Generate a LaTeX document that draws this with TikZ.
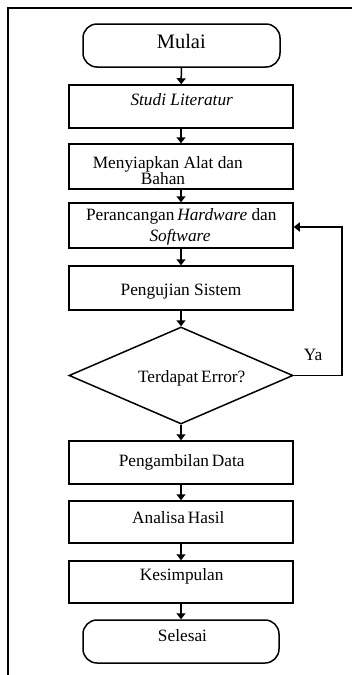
\documentclass[tikz,border=0pt]{standalone}
\usepackage{fontspec}
\setmainfont{Liberation Serif}
\usetikzlibrary{shapes.geometric,arrows.meta}
\begin{document}
\begin{tikzpicture}[x=1pt,y=-1pt,
  box/.style={draw=black,line width=1.5pt,minimum width=224pt,inner sep=0pt},
  term/.style={draw=black,line width=1.5pt,rounded corners=14pt,inner sep=0pt},
  txt/.style={anchor=base,inner sep=0pt,font=\fontsize{17.3}{20}\selectfont},
  conn/.style={line width=1.5pt,-{Triangle[width=9pt,length=6pt]}},
  frameline/.style={line width=2.2pt}]
\useasboundingbox (0,0) rectangle (352,675);
% frame
\coordinate (ftr) at (352,8);
\coordinate (fc) at (8,8);
\coordinate (fbl) at (8,675);
\draw[frameline] (ftr) -- (fc) -- (fbl);
% nodes
\node[term,minimum width=197pt,minimum height=43pt] (mulai) at (181.5,45.5) {};
\node[box,minimum height=43pt] (s1) at (181,106.5) {};
\node[box,minimum height=45pt] (s2) at (181,166.5) {};
\node[box,minimum height=45pt] (s3) at (181,225.5) {};
\node[box,minimum height=44pt] (s4) at (181,288) {};
\node[draw=black,line width=1.5pt,diamond,minimum width=224pt,minimum height=97pt,inner sep=0pt] (dia) at (181,375.5) {};
\node[box,minimum height=43pt] (s5) at (181,462.5) {};
\node[box,minimum height=42pt] (s6) at (181,522) {};
\node[box,minimum height=42pt] (s7) at (181,582) {};
\node[term,minimum width=196pt,minimum height=43pt] (selesai) at (181,641.5) {};
% texts
\node[txt,font=\fontsize{20.5}{24}\selectfont] (tmulai) at (181.3,48.3) {Mulai};
\node[txt] (t1) at (181.7,105) {\itshape Studi Literatur};
\node[txt] (t2a) at (167.8,168) {Menyiapkan Alat dan};
\node[txt] (t2b) at (163,184.5) {Bahan};
\node[txt] (t3a) at (181.3,220.7) {Perancangan\,\textit{Hardware} dan};
\node[txt] (t3b) at (180,241.7) {\itshape Software};
\node[txt] (t4) at (181,295) {Pengujian Sistem};
\node[txt] (tdia) at (191.7,382) {Terdapat\,Error?};
\node[txt] (tya) at (313,360) {Ya};
\node[txt] (t5) at (181.7,466) {Pengambilan\,Data};
\node[txt] (t6) at (178.3,523) {Analisa\,Hasil};
\node[txt] (t7) at (181.7,580) {Kesimpulan};
\node[txt] (tsel) at (182.5,641.7) {Selesai};
% connectors
\draw[conn] (mulai) -- (s1);
\draw[conn] (s1) -- (s2);
\draw[conn] (s2) -- (s3);
\draw[conn] (s3) -- (s4);
\draw[conn] (s4) -- (dia);
\draw[conn] (dia) -- (s5);
\draw[conn] (s5) -- (s6);
\draw[conn] (s6) -- (s7);
\draw[conn] (s7) -- (selesai);
\draw[conn] (dia.east) -- ++(48,0) |- ([yshift=-1.5pt]s3.east);
\end{tikzpicture}
\end{document}
